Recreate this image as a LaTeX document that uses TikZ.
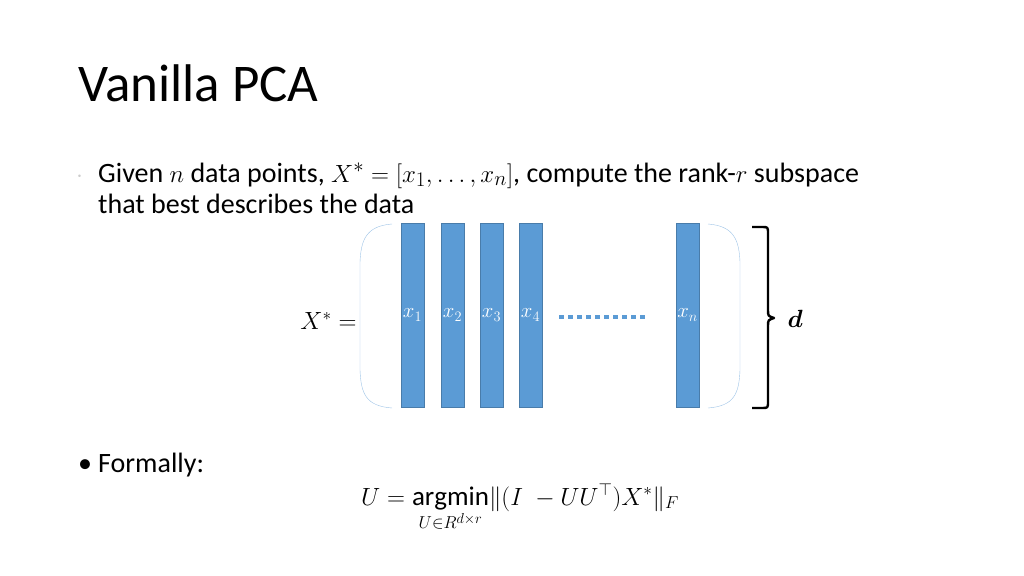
\documentclass[tikz,border=0pt]{standalone}
\usepackage{amsmath}
\usepackage{fontspec}
\setmainfont{Carlito}
\definecolor{colblue}{RGB}{91,155,213}
\tikzstyle{column}=[rectangle,draw=colblue!80!black,fill=colblue,minimum width=23pt,minimum height=184pt,inner sep=0pt,text=white,font=\fontsize{20}{24}\selectfont]
\tikzstyle{body}=[anchor=base west,inner sep=0pt,font=\fontsize{28}{32}\selectfont]

\begin{document}
\begin{tikzpicture}[x=1pt,y=-1pt]
  \useasboundingbox (0,0) rectangle (1024,575);
  \node[anchor=base west,inner sep=0pt,font=\fontsize{53}{58}\selectfont] (title) at (78,102) {Vanilla PCA};

  \node[body,text=gray!40] (bullet1) at (76,182) {$\cdot$};
  \node[body] (line1) at (98,182) {Given $n$ data points, $X^{*}=[x_1,\dots,x_n]$, compute the rank-$r$ subspace};
  \node[body] (line2) at (98,213) {that best describes the data};

  % data matrix
  \node[column] (c1) at (412.5,315) {$x_1$};
  \node[column] (c2) at (452.5,315) {$x_2$};
  \node[column] (c3) at (491.5,315) {$x_3$};
  \node[column] (c4) at (530.5,315) {$x_4$};
  \node[column] (cn) at (687.5,315) {$x_n$};
  \coordinate (dots start) at (559,317);
  \coordinate (dots end) at (648,317);
  \draw[colblue,line width=4.5pt,dash pattern=on 4.5pt off 4.5pt] (dots start) -- (dots end);

  \draw[colblue!60,thin] (392,224) .. controls (366,226) and (361,240) .. (360,262)
    -- (360,370) .. controls (361,394) and (366,406) .. (392,408);
  \draw[colblue!60,thin] (708,224) .. controls (734,226) and (739,240) .. (740,262)
    -- (740,370) .. controls (739,394) and (734,406) .. (708,408);

  \coordinate (brace top) at (752,227);
  \coordinate (brace bottom) at (752,408);
  \coordinate (brace tip) at (766,318);
  \draw[line width=2.4pt,line join=round] (brace top) -- (762,227) .. controls (768,227) .. (768,234)
    -- (768,310) .. controls (768,316) .. (774,318) .. controls (768,320) .. (768,326)
    -- (768,401) .. controls (768,408) .. (762,408) -- (brace bottom);
  \node[anchor=west,font=\fontsize{28}{32}\selectfont] (d) at (784,319) {$\boldsymbol{d}$};

  \node[anchor=east,font=\fontsize{26}{30}\selectfont] (lhs) at (360,321) {$X^{*}=$};

  \node[body] (bullet2) at (78,472) {\textbullet};
  \node[body] (formally) at (98,472) {Formally:};
  \node[anchor=base,inner sep=0pt,font=\fontsize{27}{30}\selectfont] (formula) at (520,505)
    {$U=\underset{U\in R^{d\times r}}{\mathrm{argmin}}\lVert(I\;-UU^{\top})X^{*}\rVert_{F}$};
\end{tikzpicture}
\end{document}
